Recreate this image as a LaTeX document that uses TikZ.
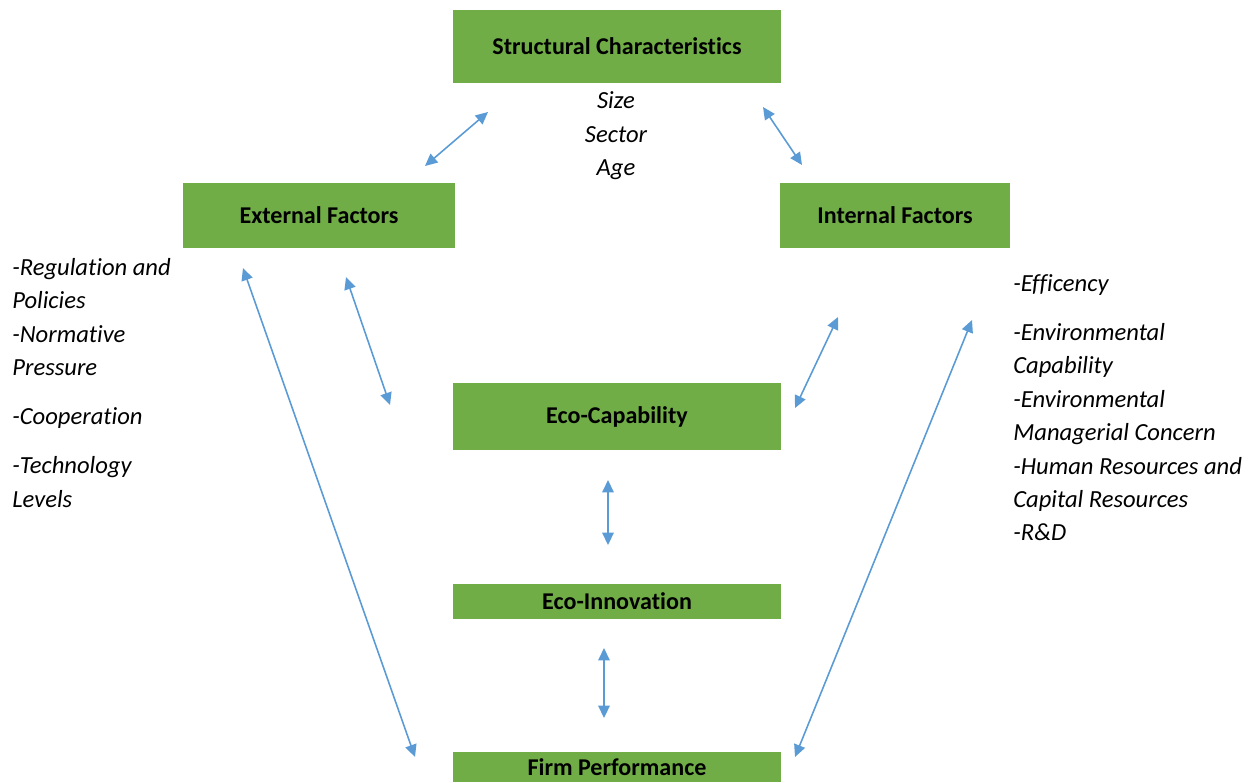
\documentclass[tikz,border=0pt]{standalone}
\usepackage{fontspec}
\setmainfont{Carlito}[Ligatures=NoCommon]
\usepackage{tikz}
\usetikzlibrary{arrows.meta}
\definecolor{boxgreen}{HTML}{70AD47}
\definecolor{linkblue}{HTML}{5B9BD5}
\tikzstyle{factorbox} = [fill=boxgreen, rectangle, inner sep=0pt,
font=\fontsize{13.7}{16}\selectfont\bfseries]
\tikzstyle{itemtext} = [inner sep=0pt, align=left,
font=\fontsize{14}{19}\selectfont\itshape]
\tikzstyle{link} = [draw=linkblue, line width=0.9pt,
{Triangle[length=7pt,width=6.5pt]}-{Triangle[length=7pt,width=6.5pt]}]

\begin{document}
\begin{tikzpicture}[x=0.02cm, y=-0.02cm]
		\useasboundingbox (0,0) rectangle (1253,782);
		% boxes
		\node [factorbox, minimum width=6.56cm, minimum height=1.46cm] (struct) at (617,46.5) {Structural Characteristics};
		\node [factorbox, minimum width=5.44cm, minimum height=1.3cm] (external) at (319,215.5) {External Factors};
		\node [factorbox, minimum width=4.6cm, minimum height=1.3cm] (internal) at (895,215.5) {Internal Factors};
		\node [factorbox, minimum width=6.56cm, minimum height=1.34cm] (ecocap) at (617,416.5) {Eco-Capability};
		\node [factorbox, minimum width=6.56cm, minimum height=0.7cm] (ecoinno) at (617,601.5) {Eco-Innovation};
		\node [factorbox, minimum width=6.56cm, minimum height=0.6cm] (firm) at (617,767) {\raisebox{-2pt}{Firm Performance}};
		
		% texts
		\node [itemtext, align=center] (structlist) at (616,136) {Size\\Sector\\Age};
		\node [itemtext, anchor=north west] (extlist) at (12,258) {-Regulation and\\Policies\\-Normative\\Pressure\\[9pt]-Cooperation\\[9pt]-Technology\\Levels};
		\node [itemtext, anchor=north west] (intlist) at (1013,274) {-Efficency\\[9pt]-Environmental\\Capability\\-Environmental\\Managerial Concern\\-Human Resources and\\Capital Resources\\-R\&D};
		
		% arrows
		\coordinate (a1) at (425,166); \coordinate (b1) at (488,112);
		\coordinate (a2) at (763,107); \coordinate (b2) at (802,165);
		\coordinate (a3) at (243,268); \coordinate (b3) at (415,757);
		\coordinate (a4) at (346,277); \coordinate (b4) at (390,405);
		\coordinate (a5) at (838,317); \coordinate (b5) at (795,408);
		\coordinate (a6) at (972,320); \coordinate (b6) at (795,757);
		\coordinate (a7) at (608,480); \coordinate (b7) at (608,545);
		\coordinate (a8) at (604,648); \coordinate (b8) at (604,718);
		\draw [link] (a1) -- (b1);
		\draw [link] (a2) -- (b2);
		\draw [link] (a3) -- (b3);
		\draw [link] (a4) -- (b4);
		\draw [link] (a5) -- (b5);
		\draw [link] (a6) -- (b6);
		\draw [link] (a7) -- (b7);
		\draw [link] (a8) -- (b8);
\end{tikzpicture}
\end{document}
